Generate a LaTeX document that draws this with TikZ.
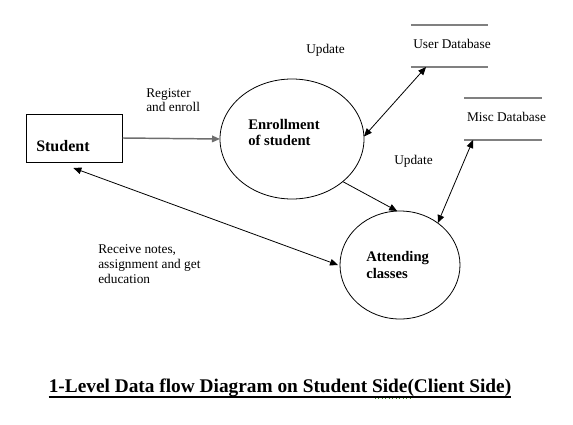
\documentclass[tikz,border=0pt]{standalone}
\usepackage{fontspec}
\setmainfont{Liberation Serif}
\usetikzlibrary{shapes.geometric,arrows.meta}
\definecolor{dbgray}{RGB}{128,128,128}
\definecolor{flowgray}{RGB}{110,110,110}
\definecolor{squig}{RGB}{60,140,40}
\begin{document}
\begin{tikzpicture}[x=0.75pt,y=-0.75pt,
  lbl/.style={font=\fontsize{10}{11}\selectfont, inner sep=0pt, align=left},
  btxt/.style={font=\bfseries\fontsize{11}{12.5}\selectfont, inner sep=0pt, align=left},
  proc/.style={draw, ellipse, line width=0.6pt, inner sep=0pt, outer sep=0pt},
  store/.style={inner sep=0pt, outer sep=0pt, minimum width=58pt, minimum height=31.5pt},
  storeline/.style={draw=dbgray, line width=1.3pt},
  tip/.style={-{Triangle[length=6pt,width=5pt]}},
  arr/.style={tip, line width=0.6pt},
  darr/.style={{Triangle[length=6pt,width=5pt]}-{Triangle[length=6pt,width=5pt]}, line width=0.6pt}
]
\useasboundingbox (0,0) rectangle (573,424);

% Student external entity
\node[draw, line width=0.7pt, minimum width=72pt, minimum height=36pt, inner sep=0pt, outer sep=0pt] (student) at (74.7,138) {};
\node[anchor=west, font=\bfseries\fontsize{12}{14}\selectfont, inner sep=0pt] (studenttxt) at (36,146) {Student};

% Processes
\node[proc, minimum width=108pt, minimum height=90pt] (enroll) at (292,139) {};
\node[btxt, anchor=west] (enrolltxt) at (248,132.5) {Enrollment\\of student};

\node[proc, minimum width=90pt, minimum height=81pt] (attend) at (400,265) {};
\node[btxt, anchor=west] (attendtxt) at (366,265) {Attending\\classes};

% Data stores
\node[store] (udb) at (449.5,46) {};
\draw[storeline] (udb.north west) -- (udb.north east);
\draw[storeline] (udb.south west) -- (udb.south east);
\node[lbl] (udbtxt) at (452,44) {User Database};

\node[store] (misc) at (503,119) {};
\draw[storeline] (misc.north west) -- (misc.north east);
\draw[storeline] (misc.south west) -- (misc.south east);
\node[lbl] (misctxt) at (506.5,117) {Misc Database};

% Flows
\draw[tip, draw=flowgray, line width=1.1pt] (student.east) -- (enroll.west);
\draw[darr] (enroll.2) -- ([xshift=-17.6pt]udb.south);
\draw[arr] (enroll.-40) -- (attend.93);
\draw[darr] ([xshift=-22.5pt]misc.south) -- (attend.48);
\draw[darr] ([shift={(-1pt,-4.5pt)}]student.south) -- ([xshift=-1.5pt]attend.west);

% Flow labels
\node[lbl, anchor=west] (reglbl) at (146,100) {Register\\and enroll};
\node[lbl, anchor=west] (upd1) at (306,50) {Update};
\node[lbl, anchor=west] (upd2) at (394,161) {Update};
\node[lbl, anchor=west] (recvlbl) at (98,264) {Receive notes,\\assignment and get\\education};

% Title
\node[font=\bfseries\fontsize{14.5}{16}\selectfont, inner sep=0pt, anchor=base] (title) at (280,392) {1-Level Data flow Diagram on Student Side(Client Side)};
\draw[line width=1.3pt] ([yshift=-3.6pt]title.base west) -- ([yshift=-3.6pt]title.base east);
\coordinate (sq1) at (375,398.5);
\coordinate (sq2) at (413,398.5);
\draw[squig, dotted, line width=0.6pt] (sq1) -- (sq2);
\end{tikzpicture}
\end{document}
